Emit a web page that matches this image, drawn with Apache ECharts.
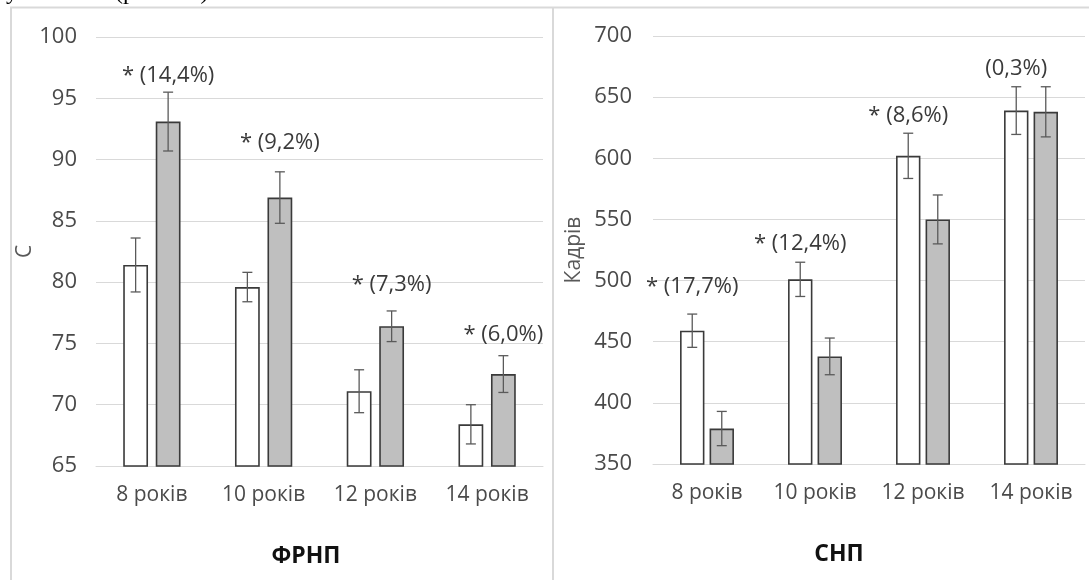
<!DOCTYPE html>
<html>
<head>
<meta charset="utf-8">
<script src="https://cdn.jsdelivr.net/npm/echarts@6/dist/echarts.min.js"></script>
<style>
html,body{margin:0;padding:0;background:#fff;}
#chart{width:1089px;height:580px;}
</style>
</head>
<body>
<div id="chart"></div>
<script>
// ---- data ----
const categories = ['8 років', '10 років', '12 років', '14 років'];
// ФРНП (C)
const frnpA = [81.4, 79.6, 71.1, 68.4];
const frnpAErr = [2.2, 1.2, 1.75, 1.6];
const frnpB = [93.1, 86.9, 76.4, 72.5];
const frnpBErr = [2.4, 2.1, 1.25, 1.5];
const frnpNotes = ['* (14,4%)', '* (9,2%)', '* (7,3%)', '* (6,0%)'];
const frnpNoteY = [96.8, 91.35, 79.8, 75.7];
// СНП (Кадрів)
const snpA = [459, 501, 602, 639];
const snpAErr = [13.6, 14, 18.5, 19.5];
const snpB = [379, 438, 550, 638];
const snpBErr = [14, 15, 20, 20.5];
const snpNotes = ['* (17,7%)', '* (12,4%)', '* (8,6%)', '(0,3%)'];
const snpNoteY = [494.8, 529.9, 635.2, 672.9];
// axis ticks
const frnpAxis = {min: 65, max: 100, interval: 5};
const snpAxis = {min: 350, max: 700, interval: 50};

// ---- styles ----
const FONT = '"Open Sans", "Noto Sans", sans-serif';
const FS_TICK = 22, FS_CAT = 21, FS_NOTE = 22;
const TXT = '#4a4a4a';
const LEFT_BW = 0.222, LEFT_GAP = 0.31;
const RIGHT_BW = 0.226, RIGHT_GAP = 0.21;
const WHITE = '#ffffff', GRAY = '#bfbfbf', EDGE = '#3a3a3a';

const chart = echarts.init(document.getElementById('chart'), null, {renderer: 'canvas'});

function errSeries(xi, yi, vals, errs, side, bw, gap) {
  return {
    type: 'custom', xAxisIndex: xi, yAxisIndex: yi, z: 5, silent: true,
    data: vals.map((v, i) => [i, v, errs[i]]),
    encode: {x: 0, y: 1},
    renderItem: function (params, api) {
      const i = api.value(0), v = api.value(1), e = api.value(2);
      const hi = api.coord([i, v + e]);
      const lo = api.coord([i, v - e]);
      const catW = api.size([1, 0])[0];
      const barW = catW * bw;
      const x = hi[0] + side * (barW + barW * gap) / 2;
      const cap = 5;
      const st = {stroke: '#5a5a5a', lineWidth: 1.3};
      return {type: 'group', children: [
        {type: 'line', shape: {x1: x, y1: hi[1], x2: x, y2: lo[1]}, style: st},
        {type: 'line', shape: {x1: x - cap, y1: hi[1], x2: x + cap, y2: hi[1]}, style: st},
        {type: 'line', shape: {x1: x - cap, y1: lo[1], x2: x + cap, y2: lo[1]}, style: st}
      ]};
    }
  };
}

function noteSeries(xi, yi, ys, notes, side, bw, gap) {
  return {
    type: 'custom', xAxisIndex: xi, yAxisIndex: yi, z: 6, silent: true,
    data: ys.map((y, i) => [i, y]),
    encode: {x: 0, y: 1},
    renderItem: function (params, api) {
      const i = api.value(0), y = api.value(1);
      const p = api.coord([i, y]);
      const catW = api.size([1, 0])[0];
      const barW = catW * bw;
      const x = p[0] + side * (barW + barW * gap) / 2;
      return {type: 'text', x: x, y: p[1], style: {
        text: notes[params.dataIndex], fontFamily: FONT, fontSize: FS_NOTE,
        fill: '#3a3a3a', align: 'center', verticalAlign: 'middle'
      }};
    }
  };
}

function barSeries(xi, yi, vals, color, bw, gap) {
  return {
    type: 'bar', xAxisIndex: xi, yAxisIndex: yi, data: vals,
    barWidth: (bw * 100) + '%', barGap: (gap * 100) + '%',
    itemStyle: {color: color, borderColor: EDGE, borderWidth: 1.6},
    silent: true
  };
}

const tickStyle = {fontFamily: FONT, fontSize: FS_TICK, color: TXT};
const catStyle = {fontFamily: FONT, fontSize: FS_CAT, color: TXT, interval: 0, hideOverlap: false};

const option = {
  animation: false,
  backgroundColor: '#ffffff',
  title: [
    {text: 'ФРНП', left: 301, top: 540, textAlign: 'center',
     textStyle: {fontFamily: FONT, fontSize: 23, fontWeight: 'bold', color: '#111'}},
    {text: 'СНП', left: 834, top: 538, textAlign: 'center',
     textStyle: {fontFamily: FONT, fontSize: 23, fontWeight: 'bold', color: '#111'}}
  ],
  graphic: [
    {type: 'polyline', shape: {points: [[11, 600], [11, 7.5], [1100, 7.5]]}, style: {stroke: '#d9d9d9', lineWidth: 2, fill: null}},
    {type: 'line', shape: {x1: 553, y1: 7, x2: 553, y2: 600}, style: {stroke: '#d9d9d9', lineWidth: 2}},
    {type: 'text', x: 6, y: -7, style: {text: 'у', fontFamily: '"Liberation Serif", serif', fontSize: 24, fill: '#000', verticalAlign: 'middle'}},
    {type: 'text', x: 115, y: -7, style: {text: '(рис. 3.1)', fontFamily: '"Liberation Serif", serif', fontSize: 24, fill: '#000', verticalAlign: 'middle'}}
  ],
  grid: [
    {left: 96, top: 37, width: 447, height: 429},
    {left: 653, top: 36, width: 432, height: 428}
  ],
  xAxis: [
    {type: 'category', gridIndex: 0, data: categories,
     axisLine: {show: true, lineStyle: {color: '#d9d9d9', width: 1}}, axisTick: {show: false},
     axisLabel: Object.assign({margin: 19}, catStyle)},
    {type: 'category', gridIndex: 1, data: categories,
     axisLine: {show: true, lineStyle: {color: '#d9d9d9', width: 1}}, axisTick: {show: false},
     axisLabel: Object.assign({margin: 19}, catStyle)}
  ],
  yAxis: [
    {type: 'value', gridIndex: 0, min: frnpAxis.min, max: frnpAxis.max, interval: frnpAxis.interval,
     name: 'С', nameLocation: 'middle', nameGap: 56, nameRotate: 90,
     nameTextStyle: {fontFamily: FONT, fontSize: FS_CAT, color: '#595959'},
     axisLine: {show: false}, axisTick: {show: false},
     splitLine: {lineStyle: {color: '#d9d9d9', width: 1}},
     axisLabel: Object.assign({margin: 19}, tickStyle)},
    {type: 'value', gridIndex: 1, min: snpAxis.min, max: snpAxis.max, interval: snpAxis.interval,
     name: 'Кадрів', nameLocation: 'middle', nameGap: 68, nameRotate: 90,
     nameTextStyle: {fontFamily: FONT, fontSize: FS_CAT, color: '#595959'},
     axisLine: {show: false}, axisTick: {show: false},
     splitLine: {lineStyle: {color: '#d9d9d9', width: 1}},
     axisLabel: Object.assign({margin: 21}, tickStyle)}
  ],
  series: [
    barSeries(0, 0, frnpA, WHITE, LEFT_BW, LEFT_GAP),
    barSeries(0, 0, frnpB, GRAY, LEFT_BW, LEFT_GAP),
    errSeries(0, 0, frnpA, frnpAErr, -1, LEFT_BW, LEFT_GAP),
    errSeries(0, 0, frnpB, frnpBErr, 1, LEFT_BW, LEFT_GAP),
    noteSeries(0, 0, frnpNoteY, frnpNotes, 1, LEFT_BW, LEFT_GAP),
    barSeries(1, 1, snpA, WHITE, RIGHT_BW, RIGHT_GAP),
    barSeries(1, 1, snpB, GRAY, RIGHT_BW, RIGHT_GAP),
    errSeries(1, 1, snpA, snpAErr, -1, RIGHT_BW, RIGHT_GAP),
    errSeries(1, 1, snpB, snpBErr, 1, RIGHT_BW, RIGHT_GAP),
    noteSeries(1, 1, snpNoteY, snpNotes, -1, RIGHT_BW, RIGHT_GAP)
  ]
};
chart.setOption(option);
</script>
</body>
</html>
